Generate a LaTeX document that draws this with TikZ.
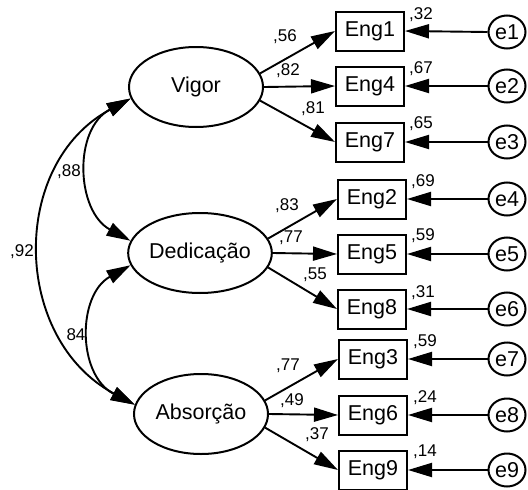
\documentclass[tikz,border=0pt]{standalone}
\usepackage{fontspec}
\setmainfont{Liberation Sans}
\usetikzlibrary{arrows.meta,shapes.geometric}
\begin{document}
\begin{tikzpicture}[x=1pt,y=-1pt,
  lat/.style={ellipse,draw,line width=2pt,minimum width=134pt,minimum height=80pt,inner sep=0pt,font=\fontsize{21.5}{24}\selectfont},
  obs/.style={rectangle,draw,line width=2pt,minimum width=68pt,minimum height=39pt,inner sep=0pt,font=\fontsize{21.5}{24}\selectfont},
  err/.style={ellipse,draw,line width=2pt,minimum width=37pt,minimum height=33pt,inner sep=0pt,font=\fontsize{21.5}{24}\selectfont},
  tip/.tip={Triangle[length=24pt,width=14pt]},
  arr/.style={line width=1.9pt,-tip},
  dbl/.style={line width=1.9pt,tip-tip},
  lab/.style={font=\fontsize{17}{19}\selectfont,inner sep=0pt}]
\useasboundingbox (0,0) rectangle (528,490);
% latent variables
\node[lat] (V) at (196,87) {Vigor};
\node[lat] (D) at (200,253) {Dedicação};
\node[lat] (A) at (201,414) {Absorção};
% observed
\node[obs] (E1) at (370,31) {Eng1};
\node[obs] (E4) at (370,86) {Eng4};
\node[obs] (E7) at (370,142) {Eng7};
\node[obs] (E2) at (372,199) {Eng2};
\node[obs] (E5) at (372,254) {Eng5};
\node[obs] (E8) at (372,309) {Eng8};
\node[obs] (E3) at (373,359) {Eng3};
\node[obs] (E6) at (373,415) {Eng6};
\node[obs] (E9) at (373,470) {Eng9};
% errors
\node[err] (e1) at (507,32) {e1};
\node[err] (e2) at (507,86) {e2};
\node[err] (e3) at (507,142) {e3};
\node[err] (e4) at (507,199) {e4};
\node[err] (e5) at (507,254) {e5};
\node[err] (e6) at (507,309) {e6};
\node[err] (e7) at (507,359) {e7};
\node[err] (e8) at (507,415) {e8};
\node[err] (e9) at (507,470) {e9};
% loadings
\draw[arr] (V.12) -- (E1.west);
\draw[arr] (V.east) -- (E4.west);
\draw[arr] (V.-12) -- (E7.west);
\draw[arr] (D.12) -- (E2.west);
\draw[arr] (D.east) -- (E5.west);
\draw[arr] (D.-12) -- (E8.west);
\draw[arr] (A.12) -- (E3.west);
\draw[arr] (A.east) -- (E6.west);
\draw[arr] (A.-12) -- (E9.west);
% error arrows
\foreach \e/\E in {e1/E1,e2/E4,e3/E7,e4/E2,e5/E5,e6/E8,e7/E3,e8/E6,e9/E9}
  \draw[arr] (\e.west) -- (\E.east);
% covariances
\draw[dbl] (V.190) .. controls (73,129) and (76,211) .. (D.170);
\draw[dbl] (V.190) .. controls (9,164) and (12,339) .. (A.172);
\draw[dbl] (D.190) .. controls (77,295) and (77,375) .. (A.172);
% labels
\node[lab] (l1) at (285,37) {,56};
\node[lab] (l2) at (288,71) {,82};
\node[lab] (l3) at (313,109) {,81};
\node[lab] (l4) at (287,206) {,83};
\node[lab] (l5) at (291,238) {,77};
\node[lab] (l6) at (315,275) {,55};
\node[lab] (l7) at (288,366) {,77};
\node[lab] (l8) at (292,401) {,49};
\node[lab] (l9) at (317,435) {,37};
\node[lab] (r1) at (421,15) {,32};
\node[lab] (r2) at (421,69) {,67};
\node[lab] (r3) at (421,124) {,65};
\node[lab] (r4) at (423,182) {,69};
\node[lab] (r5) at (423,236) {,59};
\node[lab] (r6) at (423,293) {,31};
\node[lab] (r7) at (425,342) {,59};
\node[lab] (r8) at (425,398) {,24};
\node[lab] (r9) at (425,452) {,14};
\node[lab] (c1) at (69,172) {,88};
\node[lab] (c2) at (22,252) {,92};
\node[lab] (c3) at (76,335) {84};
\end{tikzpicture}
\end{document}
